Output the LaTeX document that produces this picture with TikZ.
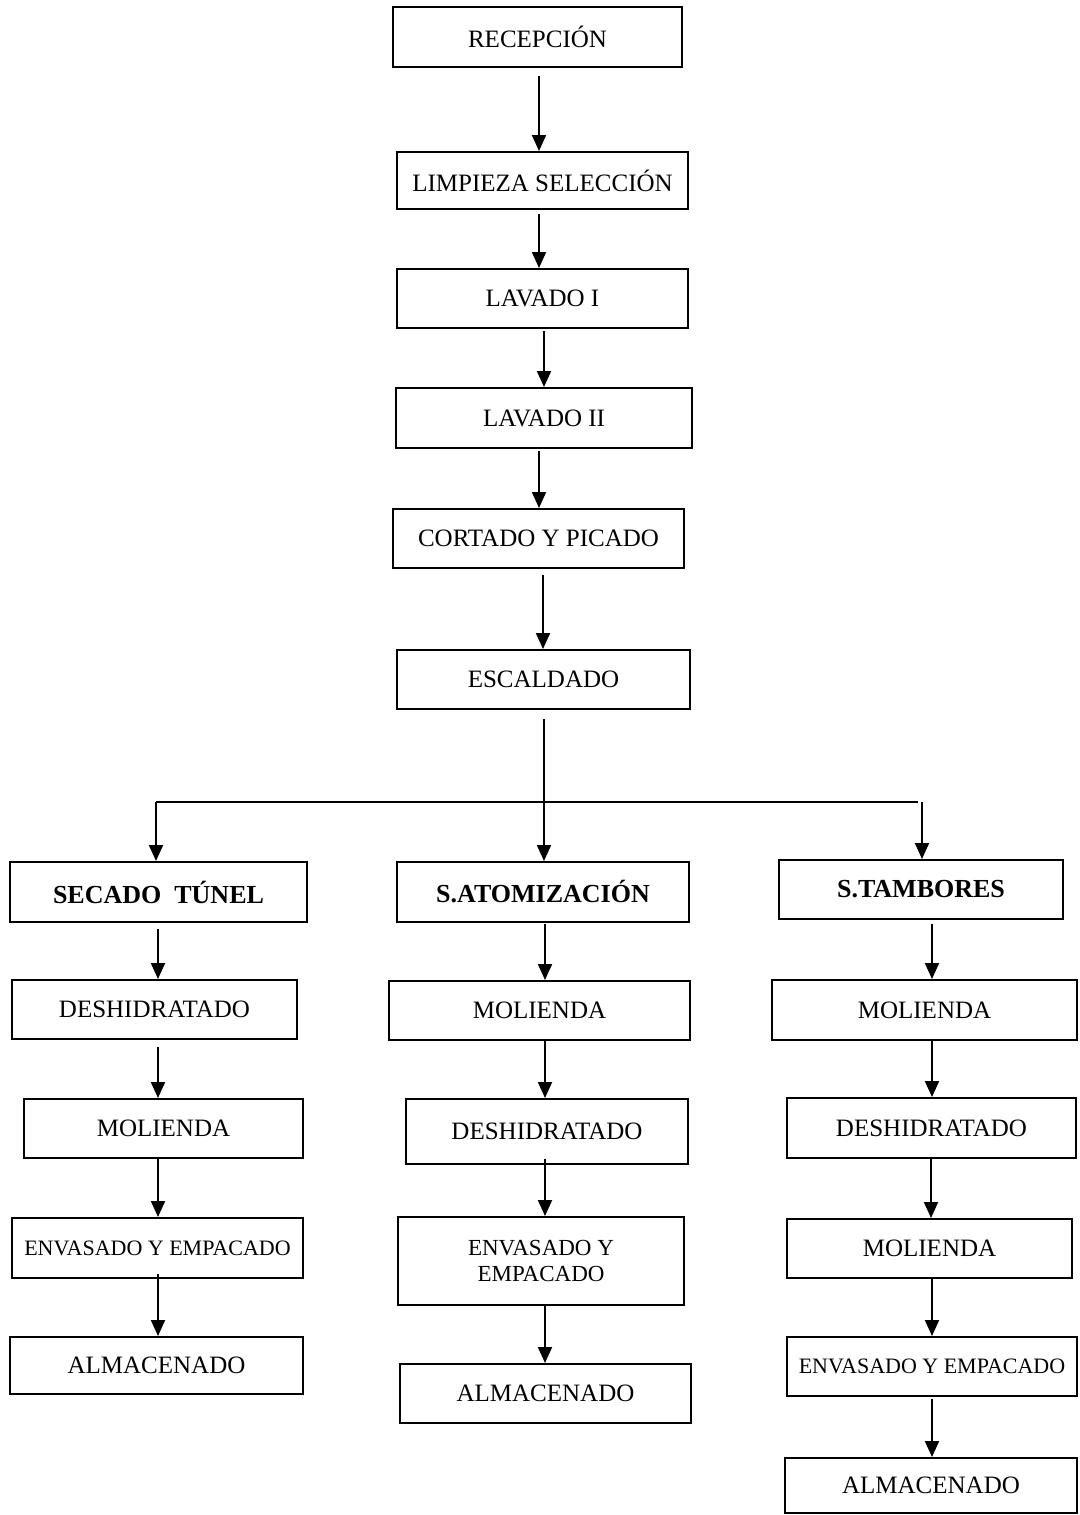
\documentclass[tikz,border=0pt]{standalone}
\usepackage{fontspec}
\setmainfont{Liberation Serif}
\usetikzlibrary{arrows.meta,calc}
\tikzset{
  box/.style={draw, line width=2pt, inner sep=0pt, align=center, font=\fontsize{25}{29}\selectfont},
  boldbox/.style={box, font=\fontsize{26}{30}\selectfont\bfseries},
  smallbox/.style={box, font=\fontsize{22}{26}\selectfont},
  twobox/.style={box, font=\fontsize{23}{26}\selectfont},
  arr/.style={line width=2pt, -{Triangle[length=16pt,width=14pt]}},
  conn/.style={line width=2pt}
}
\newcommand\flowarrow[4]{\path (#1.south) ++(#3,#4) coordinate (tmp#1);
  \draw[arr] (tmp#1) -- (tmp#1 |- #2.north);}
\begin{document}
\begin{tikzpicture}[x=1pt,y=-1pt]
\useasboundingbox (0,0) rectangle (1079,1515);
% main column
\node[box, minimum width=289pt, minimum height=60pt] (rec) at (537.5,37) {RECEPCIÓN};
\node[box, minimum width=291pt, minimum height=57pt] (lim) at (542.5,180.5) {LIMPIEZA SELECCIÓN};
\node[box, minimum width=291pt, minimum height=59pt] (lav1) at (542.5,298.5) {LAVADO I};
\node[box, minimum width=296pt, minimum height=60pt] (lav2) at (544,418) {LAVADO II};
\node[box, minimum width=291pt, minimum height=59pt] (cor) at (538.5,538.5) {CORTADO Y PICADO};
\node[box, minimum width=293pt, minimum height=59pt] (esc) at (543.5,679.5) {ESCALDADO};
% branch heads
\node[boldbox, minimum width=297pt, minimum height=60pt] (sec) at (158.5,892) {SECADO\ \ TÚNEL};
\node[boldbox, minimum width=292pt, minimum height=60pt] (ato) at (543,892) {S.ATOMIZACIÓN};
\node[boldbox, minimum width=284pt, minimum height=59pt] (tam) at (921,889.5) {S.TAMBORES};
% left column
\node[box, minimum width=285pt, minimum height=59pt] (L1) at (154.5,1009.5) {DESHIDRATADO};
\node[box, minimum width=279pt, minimum height=59pt] (L2) at (163.5,1128.5) {MOLIENDA};
\node[smallbox, minimum width=291pt, minimum height=60pt] (L3) at (157.5,1248) {ENVASADO Y EMPACADO};
\node[box, minimum width=293pt, minimum height=57pt] (L4) at (156.5,1365.5) {ALMACENADO};
% middle column
\node[box, minimum width=301pt, minimum height=59pt] (M1) at (539.5,1010.5) {MOLIENDA};
\node[box, minimum width=282pt, minimum height=65pt] (M2) at (547,1131.5) {DESHIDRATADO};
\node[twobox, minimum width=286pt, minimum height=88pt] (M3) at (541,1261) {ENVASADO Y\\EMPACADO};
\node[box, minimum width=291pt, minimum height=59pt] (M4) at (545.5,1393.5) {ALMACENADO};
% right column
\node[box, minimum width=305pt, minimum height=60pt] (R1) at (924.5,1010) {MOLIENDA};
\node[box, minimum width=289pt, minimum height=60pt] (R2) at (931.5,1128) {DESHIDRATADO};
\node[box, minimum width=285pt, minimum height=59pt] (R3) at (929.5,1248.5) {MOLIENDA};
\node[smallbox, minimum width=290pt, minimum height=59pt] (R4) at (932,1366.5) {ENVASADO Y EMPACADO};
\node[box, minimum width=292pt, minimum height=55pt] (R5) at (931,1485.5) {ALMACENADO};
% main arrows
\flowarrow{rec}{lim}{1.5}{8}
\flowarrow{lim}{lav1}{-3.5}{4}
\flowarrow{lav1}{lav2}{1.5}{2}
\flowarrow{lav2}{cor}{-5}{2}
\flowarrow{cor}{esc}{4.5}{6}
\flowarrow{esc}{ato}{0.5}{9}
% distribution line
\coordinate (hl) at (156,802);
\coordinate (hr) at (918,802);
\coordinate (hrb) at (922,802);
\draw[conn] (hl) -- (hr);
\draw[arr] (hl) -- (hl |- sec.north);
\draw[arr] (hrb) -- (hrb |- tam.north);
% left arrows
\flowarrow{sec}{L1}{-0.5}{6}
\flowarrow{L1}{L2}{3.5}{7}
\flowarrow{L2}{L3}{-5.5}{0}
\flowarrow{L3}{L4}{0.5}{-5}
% middle arrows
\flowarrow{ato}{M1}{2}{1}
\flowarrow{M1}{M2}{5.5}{0}
\flowarrow{M2}{M3}{-2}{-6}
\flowarrow{M3}{M4}{4}{0}
% right arrows
\flowarrow{tam}{R1}{11}{4}
\flowarrow{R1}{R2}{7.5}{0}
\flowarrow{R2}{R3}{-0.5}{0}
\flowarrow{R3}{R4}{2.5}{0}
\flowarrow{R4}{R5}{0}{2}
\end{tikzpicture}
\end{document}
